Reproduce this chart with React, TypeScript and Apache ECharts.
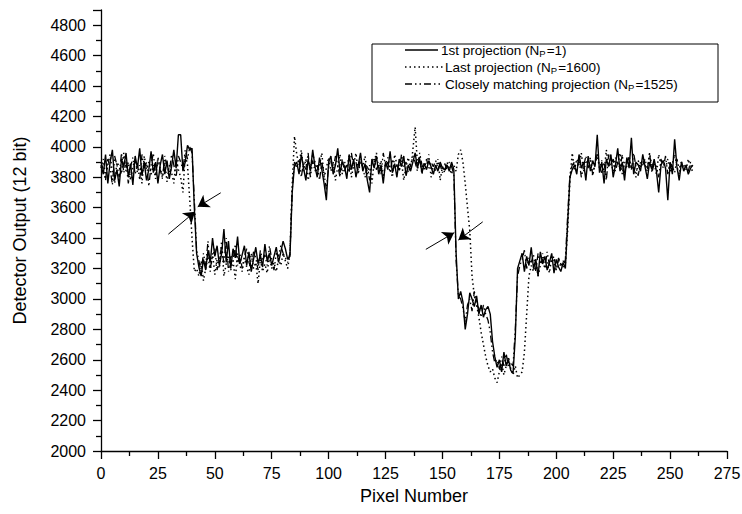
import React, { useEffect, useRef } from "react";
import * as echarts from "echarts";

const xTicks = [0, 25, 50, 75, 100, 125, 150, 175, 200, 225, 250, 275];
const yTicks = [2000, 2200, 2400, 2600, 2800, 3000, 3200, 3400, 3600, 3800, 4000, 4200, 4400, 4600, 4800];

// 1st projection (N_P = 1), pixel 0..260
const firstProjection = [
  3880, 3820, 3950, 3760, 3900, 3980, 3780, 3850, 3740, 3920,
  3870, 3960, 3800, 3890, 3750, 3940, 3860, 3990, 3810, 3900,
  3780, 3850, 3970, 3830, 3900, 3760, 3880, 3950, 3820, 3910,
  3790, 3870, 3980, 3860, 4080, 4080, 3840, 3900, 4010, 3980,
  3990, 3600, 3300,
  3210, 3150, 3260, 3190, 3320, 3240, 3400, 3280, 3350, 3220,
  3300, 3460, 3240, 3380, 3200, 3330, 3270, 3410, 3230, 3290,
  3350, 3220, 3310, 3180, 3260, 3340, 3230, 3290, 3210, 3360,
  3250, 3300, 3220, 3280, 3340, 3240, 3310, 3380, 3330, 3260,
  3280, 3700, 3880,
  3900, 3820, 3950, 3860, 3780, 3920, 3840, 3980, 3870, 3800,
  3930, 3850, 3760, 3650, 3900, 3940, 3820, 3880, 3990, 3830,
  3900, 3870, 3790, 3950, 3850, 3920, 3800, 3880, 3960, 3840,
  3890, 3780, 3700, 3920, 3860, 3940, 3820, 3880, 3760, 3900,
  3850, 3970, 3830, 3890, 3800, 3920, 3870, 3940, 3810, 3880,
  3840, 3900, 3960, 3860, 3920, 3830, 3890, 3850, 3910, 3870,
  3820, 3880, 3840, 3900, 3860, 3850, 3880, 3840, 3900,
  3850, 3300, 3000,
  3050, 2980, 2800, 2900, 3040, 3000, 2950, 3020, 2900, 2960,
  2880, 2930, 2950, 2900, 2720, 2620, 2550, 2600, 2520, 2650,
  2560, 2600, 2530, 2510, 2750, 3200,
  3250, 3300, 3180, 3280, 3220, 3340, 3200, 3260, 3150, 3310,
  3230, 3280, 3190, 3240, 3300, 3170, 3260, 3210, 3180, 3240,
  3200, 3500, 3800, 3850,
  3880, 3820, 3950, 3860, 3900, 3780, 3940, 3840, 3910, 3870,
  4080, 3830, 3900, 3760, 3920, 3870, 3950, 3800, 3880, 3990,
  3840, 3900, 3780, 3930, 3860, 4060, 3820, 3900, 3880, 3840,
  3950, 3870, 3790, 3900, 3850, 3920, 3840, 3700, 3880, 3910,
  3860, 3650, 3900, 3820, 4050, 3870, 3780, 3900, 3840, 3880,
  3820, 3860, 3880,
];

// Last projection (N_P = 1600)
const lastProjection = [
  3860, 3920, 3800, 3880, 3950, 3830, 3760, 3900, 3870, 3820,
  3960, 3840, 3900, 3780, 3870, 3920, 3830, 3880, 3760, 3940,
  3850, 3900, 3820, 3880, 3790, 3930, 3860, 3800, 3900, 3770,
  3880, 3830, 3760, 3920, 3850, 3800, 3700, 3950, 3880, 3650,
  3400, 3180, 3200,
  3150, 3250, 3120, 3200, 3280, 3180, 3300, 3160, 3260, 3200,
  3380, 3150, 3230, 3280, 3190, 3250, 3130, 3300, 3220, 3180,
  3270, 3210, 3160, 3300, 3200, 3240, 3100, 3260, 3180, 3230,
  3170, 3280, 3200, 3240, 3180, 3260, 3220, 3300, 3250, 3200,
  3300, 3750, 4070,
  3950, 3880, 3980, 3840, 3920, 3780, 3860, 3950, 3900, 3820,
  3880, 3960, 3800, 3860, 3930, 3840, 3900, 3780, 3870, 3950,
  3820, 3900, 3860, 3940, 3800, 3880, 3960, 3830, 3900, 3870,
  3940, 3820, 3880, 3760, 3900, 3960, 3850, 3910, 3800, 3890,
  3930, 3860, 3800, 3950, 3880, 3840, 3910, 3780, 3870, 3930,
  3850, 3980, 4130, 3890, 3940, 3820, 3900, 3860, 3950, 3800,
  3880, 3840, 3920, 3780, 3870, 3830, 3900, 3860, 3820, 3880,
  3840, 3950, 3980, 3900, 3760, 3600, 3450, 3150, 3020, 2960,
  2880, 2780, 2700, 2620, 2560, 2520, 2540, 2480, 2450, 2520,
  2580, 2500, 2560, 2620, 2540, 2500, 2560, 2480, 2500, 2520,
  2650, 2900, 3150, 3220,
  3180, 3260, 3150, 3220, 3300, 3200, 3240, 3170, 3280, 3230,
  3190, 3260, 3210, 3250, 3230, 3450, 3780, 3960,
  3850, 3920, 3880, 3960, 3840, 3900, 3870, 3930, 3810, 3890,
  3950, 3860, 3910, 3830, 3980, 3870, 3900, 3840, 3930, 3880,
  3960, 3820, 3900, 3870, 3940, 3850, 3890, 3800, 3910, 3860,
  3930, 3880, 3840, 3960, 3870, 3900, 3820, 3950, 3880, 3910,
  3860, 3920, 3840, 3890, 3950, 3870, 3820, 3900, 3880, 3850,
  3920, 3860, 3840,
];

// Closely matching projection (N_P = 1525)
const matchingProjection = [
  3900, 3850, 3780, 3920, 3860, 3750, 3940, 3880, 3800, 3960,
  3830, 3900, 3760, 3870, 3930, 3820, 3890, 3780, 3950, 3860,
  3900, 3740, 3880, 3960, 3810, 3920, 3850, 3790, 3940, 3870,
  3830, 3950, 3880, 3800, 3940, 3900, 3850, 3980, 3920, 4000,
  3960, 3650, 3320,
  3250, 3180, 3300, 3220, 3380, 3200, 3280, 3330, 3190, 3260,
  3350, 3230, 3400, 3180, 3290, 3250, 3360, 3220, 3300, 3200,
  3280, 3330, 3240, 3200, 3310, 3270, 3190, 3320, 3250, 3290,
  3220, 3350, 3260, 3190, 3300, 3280, 3350, 3300, 3270, 3240,
  3300, 3720, 3900,
  3860, 3920, 3800, 3900, 3850, 3960, 3800, 3910, 3840, 3880,
  3780, 3900, 3820, 3720, 3870, 3920, 3850, 3940, 3880, 3800,
  3920, 3840, 3890, 3830, 3960, 3870, 3900, 3820, 3940, 3860,
  3800, 3880, 3780, 3900, 3930, 3850, 3890, 3820, 3960, 3870,
  3900, 3830, 3920, 3860, 3880, 3840, 3950, 3870, 3900, 3830,
  3880, 3940, 3900, 3840, 3960, 3880, 3850, 3920, 3860, 3900,
  3870, 3910, 3860, 3880, 3830, 3890, 3850, 3900, 3870,
  3820, 3250, 3020,
  3000, 2940, 2850, 2960, 3000, 2920, 3050, 2960, 2940, 2880,
  2960, 2900, 2860, 2780, 2650, 2580, 2600, 2540, 2620, 2560,
  2640, 2550, 2580, 2560, 2800, 3150,
  3220, 3260, 3320, 3200, 3270, 3240, 3290, 3180, 3300, 3230,
  3260, 3200, 3310, 3220, 3250, 3280, 3190, 3270, 3230, 3210,
  3260, 3550, 3820, 3880,
  3900, 3850, 3920, 3800, 3870, 3940, 3860, 3910, 3820, 3890,
  3950, 3870, 3830, 3900, 3780, 3950, 3880, 3920, 3840, 3900,
  3860, 3950, 3820, 3890, 3930, 3850, 3960, 3870, 3810, 3900,
  3880, 3920, 3850, 3960, 3830, 3890, 3870, 3800, 3920, 3860,
  3940, 3820, 3900, 3870, 3830, 3920, 3860, 3900, 3850, 3880,
  3840, 3900, 3860,
];

// Arrows marking the edge positions: [x0, y0, x1, y1] in data units
const arrows = [
  [29.6, 3426, 41.3, 3573],
  [52.6, 3698, 42.5, 3606],
  [142.7, 3326, 155.1, 3435],
  [167.7, 3507, 157.0, 3387],
];

const FONT = "'Liberation Sans', Arial, Helvetica, sans-serif";
const DOTTED = [1.5, 3];
const DASHDOT = [7, 3, 1.5, 3, 1.5, 3];

const toPairs = (arr: number[]) => arr.map((v, i) => [i, v]);

export default function App() {
  const ref = useRef<HTMLDivElement>(null);

  useEffect(() => {
    if (!ref.current) return;
    document.body.style.margin = "0";
    const chart = echarts.init(ref.current, undefined, { renderer: "svg" });

    const legendX = 372;
    const legendY = 44;
    const rowY = [49, 66, 83];
    const sampleX0 = 405;
    const rich = {
      sub: { fontSize: 9.5, fontFamily: FONT, fill: "#000", padding: [6, 1, 0, 0] },
    };
    const legendRows = [
      { label: "1st projection (N{sub|P}=1)", dash: null as any, x1: 438, tx: 441 },
      { label: "Last projection (N{sub|P}=1600)", dash: DOTTED, x1: 443, tx: 445 },
      { label: "Closely matching projection (N{sub|P}=1525)", dash: DASHDOT, x1: 443, tx: 445 },
    ];

    const graphic: any[] = [
      {
        type: "rect",
        shape: { x: legendX, y: legendY, width: 346, height: 58 },
        style: { fill: "#fff", stroke: "#000", lineWidth: 1 },
        z: 100,
      },
    ];
    legendRows.forEach((r, i) => {
      graphic.push({
        type: "line",
        shape: { x1: sampleX0, y1: rowY[i] + 1, x2: r.x1, y2: rowY[i] + 1 },
        style: { stroke: "#000", lineWidth: 1.3, lineDash: r.dash || undefined },
        z: 101,
      });
      graphic.push({
        type: "text",
        x: r.tx,
        y: rowY[i] + 1,
        style: {
          text: r.label,
          fontSize: 13.5,
          fontFamily: FONT,
          fill: "#000",
          verticalAlign: "middle",
          align: "left",
          rich,
        },
        z: 101,
      });
    });

    const lineSeries = (name: string, data: number[], type: any, width: number) => ({
      name,
      type: "line",
      data: toPairs(data),
      showSymbol: false,
      symbol: "none",
      lineStyle: { color: "#000", width, type },
      itemStyle: { color: "#000" },
      z: 3,
    });

    const option: any = {
      animation: false,
      backgroundColor: "#fff",
      textStyle: { fontFamily: FONT },
      grid: { left: 101, right: 15, top: 10, bottom: 63, outerBoundsMode: "none", containLabel: false },
      xAxis: {
        type: "value",
        min: xTicks[0],
        max: xTicks[xTicks.length - 1],
        interval: 25,
        name: "Pixel Number",
        nameLocation: "middle",
        nameGap: 36,
        nameTextStyle: { fontSize: 18, color: "#000", fontFamily: FONT },
        axisLine: { onZero: false, lineStyle: { color: "#000", width: 1.3 } },
        axisTick: { show: true, length: 8, lineStyle: { color: "#000", width: 1.3 } },
        minorTick: { show: true, splitNumber: 2, length: 5, lineStyle: { color: "#000", width: 1.3 } },
        axisLabel: { fontSize: 16, color: "#000", margin: 14, fontFamily: FONT, formatter: (v: number) => String(v) },
        splitLine: { show: false },
      },
      yAxis: {
        type: "value",
        min: yTicks[0],
        max: 4900,
        interval: 200,
        name: "Detector Output (12 bit)",
        nameLocation: "middle",
        nameGap: 72,
        nameTextStyle: { fontSize: 18, color: "#000", fontFamily: FONT },
        axisLine: { onZero: false, lineStyle: { color: "#000", width: 1.3 } },
        axisTick: { show: true, length: 8, lineStyle: { color: "#000", width: 1.3 } },
        minorTick: { show: true, splitNumber: 2, length: 5, lineStyle: { color: "#000", width: 1.3 } },
        axisLabel: {
          fontSize: 16,
          color: "#000",
          margin: 15,
          fontFamily: FONT,
          showMaxLabel: false,
          formatter: (v: number) => String(v),
        },
        splitLine: { show: false },
      },
      series: [
        lineSeries("Last projection", lastProjection, DOTTED, 1.5),
        lineSeries("Closely matching projection", matchingProjection, DASHDOT, 1.3),
        lineSeries("1st projection", firstProjection, "solid", 1.4),
        {
          type: "lines",
          coordinateSystem: "cartesian2d",
          symbol: ["none", "arrow"],
          symbolSize: [1, 11],
          lineStyle: { color: "#000", width: 1, opacity: 1 },
          data: arrows.map((a) => ({ coords: [[a[0], a[1]], [a[2], a[3]]] })),
          z: 5,
        },
      ],
      graphic,
    };

    chart.setOption(option);
    return () => chart.dispose();
  }, []);

  return <div ref={ref} style={{ width: 742, height: 514 }} />;
}
